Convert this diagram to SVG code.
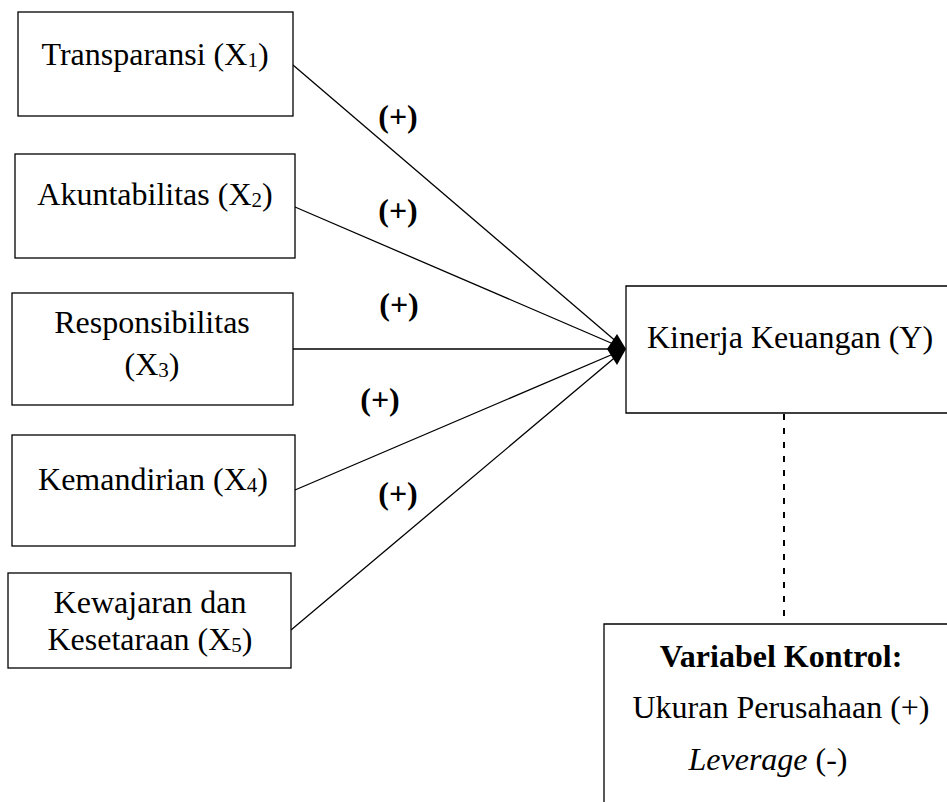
<svg xmlns="http://www.w3.org/2000/svg" width="947" height="802" viewBox="0 0 947 802">
<style>
.box{fill:#fff;stroke:#000;stroke-width:1.3}
.t{font-family:"Liberation Serif","Times New Roman",serif;font-size:32px;fill:#000;text-anchor:middle}
.b{font-weight:bold}
.sub{font-size:21px}
.ln{stroke:#000;stroke-width:1.3;fill:none}
</style>
<rect width="947" height="802" fill="#fff"/>
<g id="connectors">
<line class="ln" x1="293" y1="65" x2="625" y2="349"/>
<line class="ln" x1="295" y1="207" x2="625" y2="349"/>
<line class="ln" x1="293" y1="349" x2="625" y2="349"/>
<line class="ln" x1="295" y1="490" x2="625" y2="349"/>
<line class="ln" x1="291" y1="630" x2="625" y2="349"/>
<path d="M607,349 L617,334 L626,349 L617,365 Z" fill="#000"/>
<line x1="784" y1="414" x2="784" y2="624" stroke="#000" stroke-width="2" stroke-dasharray="6,8"/>
<text class="t b" x="398" y="127">(+)</text>
<text class="t b" x="398" y="221">(+)</text>
<text class="t b" x="399" y="315">(+)</text>
<text class="t b" x="380" y="410">(+)</text>
<text class="t b" x="398" y="504">(+)</text>
</g>
<g id="n1">
<rect class="box" x="18" y="12" width="275" height="104"/>
<text class="t" x="155" y="65">Transparansi (X<tspan class="sub" dy="2">1</tspan><tspan dy="-2">)</tspan></text>
</g>
<g id="n2">
<rect class="box" x="15" y="154" width="280" height="104"/>
<text class="t" x="155" y="205">Akuntabilitas (X<tspan class="sub" dy="2">2</tspan><tspan dy="-2">)</tspan></text>
</g>
<g id="n3">
<rect class="box" x="12" y="293" width="281" height="112"/>
<text class="t" x="152" y="333">Responsibilitas</text>
<text class="t" x="152" y="375">(X<tspan class="sub" dy="2">3</tspan><tspan dy="-2">)</tspan></text>
</g>
<g id="n4">
<rect class="box" x="12" y="435" width="283" height="111"/>
<text class="t" x="153" y="490">Kemandirian (X<tspan class="sub" dy="2">4</tspan><tspan dy="-2">)</tspan></text>
</g>
<g id="n5">
<rect class="box" x="8" y="573" width="283" height="95"/>
<text class="t" x="150" y="613">Kewajaran dan</text>
<text class="t" x="150" y="650">Kesetaraan (X<tspan class="sub" dy="2">5</tspan><tspan dy="-2">)</tspan></text>
</g>
<g id="ny">
<path class="ln" d="M947,286 L626,286 L626,413 L947,413" fill="#fff"/>
<text class="t" x="790" y="348">Kinerja Keuangan (Y)</text>
</g>
<g id="nk">
<path class="ln" d="M604,802 L604,624 L947,624"/>
<text class="t b" x="781" y="667">Variabel Kontrol:</text>
<text class="t" x="781" y="718">Ukuran Perusahaan (+)</text>
<text class="t" x="768" y="770"><tspan font-style="italic">Leverage</tspan> (-)</text>
</g>
</svg>
